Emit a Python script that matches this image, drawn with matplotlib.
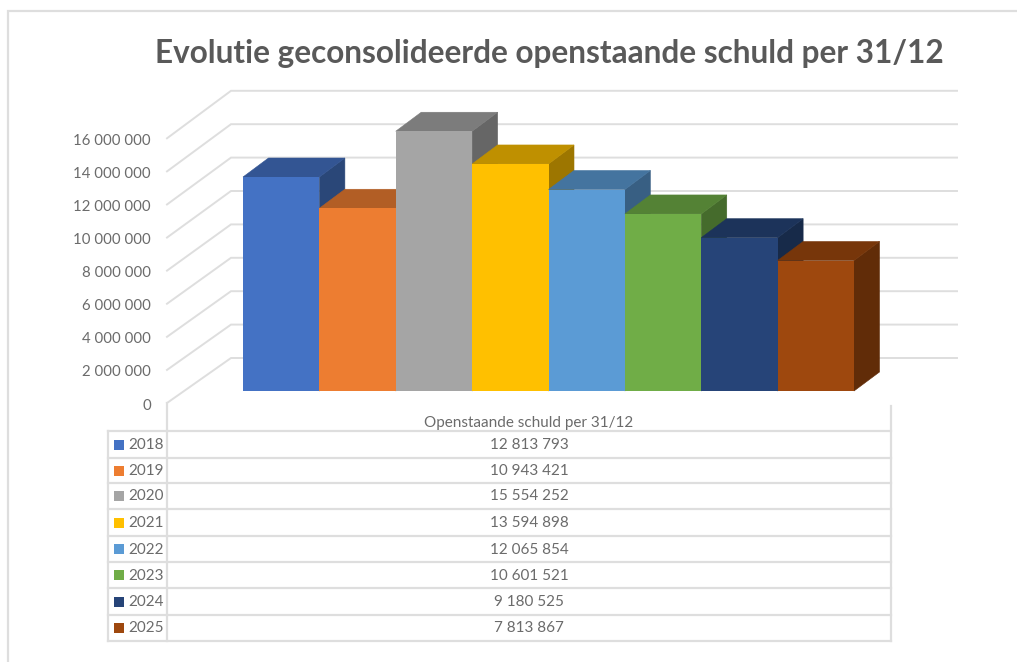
import matplotlib
matplotlib.use("Agg")
import matplotlib.pyplot as plt
from matplotlib.patches import Polygon, Rectangle
from matplotlib.lines import Line2D

plt.rcParams['font.family'] = ['Lato', 'DejaVu Sans']

TITLE = "Evolutie geconsolideerde openstaande schuld per 31/12"
SERIES_NAME = "Openstaande schuld per 31/12"
years = ["2018", "2019", "2020", "2021", "2022", "2023", "2024", "2025"]
debt = [12813793, 10943421, 15554252, 13594898, 12065854, 10601521, 9180525, 7813867]
ticks = [0, 2000000, 4000000, 6000000, 8000000, 10000000, 12000000, 14000000, 16000000]
front = ["#4472C4", "#ED7D31", "#A5A5A5", "#FFC000", "#5B9BD5", "#70AD47", "#264478", "#9E480E"]
top = ["#335593", "#B25E25", "#7C7C7C", "#BF9000", "#44749F", "#548235", "#1C335A", "#77360A"]
side = ["#2A4778", "#8F4C1E", "#666666", "#9D7600", "#385F83", "#456B2C", "#172A49", "#612C08"]

W, H = 1017, 662
fig = plt.figure(figsize=(W / 100, H / 100), dpi=100, facecolor="white")

# Pixel canvas for the frame and table furniture
bg = fig.add_axes([0, 0, 1, 1])
bg.set_xlim(0, W)
bg.set_ylim(H, 0)
bg.axis("off")

# Value axes: x = category slot, y = value, at the front plane of the bars
PX_L, PX_R, PX_B = 243, 854, 391
PX_PER_M = 16.7
slot = (PX_R - PX_L) / len(debt)
ax = fig.add_axes([PX_L / W, (H - PX_B) / H, (PX_R - PX_L) / W, 300 / H])
ax.set_xlim(0, len(debt))
ax.set_ylim(0, 300 / PX_PER_M * 1e6)
ax.axis("off")
ux = 1 / slot                 # category units per pixel
uy = 1e6 / PX_PER_M           # value units per pixel
DX, DY = 25.5 * ux, 19 * uy   # bar depth

GRID = "#DEDEDE"
TEXT = "#6B6B6B"

# Frame of the pasted picture: top and left edges only
bg.add_line(Line2D([8, 8, W], [H, 11, 11], color=GRID, lw=1.6, solid_joinstyle="miter"))

# Walls: back-wall gridlines and side-wall lines
wf_x, wf_y = (167 - PX_L) * ux, -12 * uy   # front of side wall
wb_x, wb_y = (231 - PX_L) * ux, 33 * uy    # back of side wall
end_x = (957 - PX_L) * ux
for i, t in enumerate(ticks):
    extra = i / (len(ticks) - 1) * 2.5 * uy
    ax.plot([wf_x, wb_x, end_x], [t + wf_y - extra, t + wb_y, t + wb_y],
            color=GRID, lw=1.4, clip_on=False, zorder=1, solid_joinstyle="miter")
    py = H - ax.transData.transform((0, t + wf_y - extra))[1]
    bg.text(151, py + 1, f"{t:,}".replace(",", " "), ha="right", va="center_baseline",
            fontsize=10.8, color=TEXT)

# Bars, left to right
for i, (v, f, tc, sc) in enumerate(zip(debt, front, top, side)):
    z = 2 + i
    ax.add_patch(Polygon([(i + 1, 0), (i + 1 + DX, DY), (i + 1 + DX, v + DY), (i + 1, v)],
                         fc=sc, ec=sc, lw=0.4, zorder=z, clip_on=False))
    ax.add_patch(Polygon([(i, v), (i + DX, v + DY), (i + 1 + DX, v + DY), (i + 1, v)],
                         fc=tc, ec=tc, lw=0.4, zorder=z, clip_on=False))
    ax.add_patch(Rectangle((i, 0), 1, v, fc=f, ec="none", zorder=z + 0.5, clip_on=False))

# Title
bg.text(549, 54, TITLE, ha="center", va="center", fontsize=22.7, fontweight="bold", color="#595959")

# Data table
TX0, TX1, TX2 = 108, 167, 891
rows = [431, 458, 483, 509, 536, 562, 588, 615, 641]
for r in rows:
    bg.add_line(Line2D([TX0, TX2], [r, r], color=GRID, lw=1.6))
bg.add_line(Line2D([TX0, TX0], [rows[0], rows[-1]], color=GRID, lw=1.6))
bg.add_line(Line2D([TX1, TX1], [403, rows[-1]], color=GRID, lw=1.6))
bg.add_line(Line2D([TX2, TX2], [406, rows[-1]], color=GRID, lw=1.6))
bg.text((TX1 + TX2) / 2, 423, SERIES_NAME, ha="center", va="center", fontsize=11, color=TEXT)
for i, (y, v, c) in enumerate(zip(years, debt, front)):
    cy = (rows[i] + rows[i + 1]) / 2
    bg.add_patch(Rectangle((114, cy - 5), 10, 10, fc=c, ec="none"))
    bg.text(128, cy + 0.5, y, ha="left", va="center", fontsize=11, color=TEXT)
    bg.text((TX1 + TX2) / 2, cy + 0.5, f"{v:,}".replace(",", " "), ha="center", va="center",
            fontsize=11, color=TEXT)

fig.savefig("out.png", dpi=100, facecolor="white")
